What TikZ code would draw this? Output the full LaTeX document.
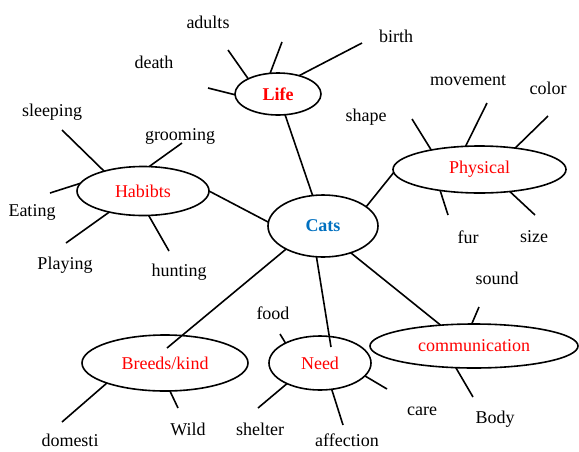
\documentclass[tikz,border=0pt]{standalone}
\usepackage{fontspec}
\setmainfont{Liberation Serif}
\usetikzlibrary{shapes.geometric}
\definecolor{catblue}{RGB}{0,112,192}
\tikzset{
  hub/.style={ellipse, draw=black, line width=1.6pt, inner sep=0pt, outer sep=0pt, text=red, font=\fontsize{18}{20}\selectfont},
  lbl/.style={inner sep=0pt, font=\fontsize{18}{20}\selectfont},
  ln/.style={line width=1.6pt},
}
\begin{document}
\begin{tikzpicture}[x=1pt,y=-1pt]
\useasboundingbox[fill=white] (0,0) rectangle (579,451);
% hubs
\node[hub, minimum width=110pt, minimum height=62pt, text=catblue, font=\fontsize{18}{20}\selectfont\bfseries] (cats) at (323,226) {Cats};
\node[hub, minimum width=86pt, minimum height=42pt, font=\fontsize{18}{20}\selectfont\bfseries] (life) at (278,94) {Life};
\node[hub, minimum width=173pt, minimum height=47pt] (phys) at (479.5,169.5) {Physical};
\node[hub, minimum width=132pt, minimum height=49pt] (hab) at (143,191) {Habibts};
\node[hub, minimum width=166pt, minimum height=56pt] (breeds) at (165,363) {Breeds/kind};
\node[hub, minimum width=102pt, minimum height=54pt] (need) at (320,363) {Need};
\node[hub, minimum width=208pt, minimum height=44pt] (comm) at (474,346) {communication};
% labels
\node[lbl] (tadults) at (208,22) {adults};
\node[lbl] (tdeath) at (154,62) {death};
\node[lbl] (tbirth) at (396,36) {birth};
\node[lbl] (tmove) at (468,81) {movement};
\node[lbl] (tcolor) at (548,88) {color};
\node[lbl] (tshape) at (366,117) {shape};
\node[lbl] (tfur) at (468,237) {fur};
\node[lbl] (tsize) at (534,237) {size};
\node[lbl] (tsleep) at (52,112) {sleeping};
\node[lbl] (tgroom) at (180,136) {grooming};
\node[lbl] (teat) at (32,212) {Eating};
\node[lbl] (tplay) at (65,265) {Playing};
\node[lbl] (thunt) at (179,272) {hunting};
\node[lbl] (tdom) at (70,440) {domesti};
\node[lbl] (twild) at (188,429) {Wild};
\node[lbl] (tshel) at (260,429) {shelter};
\node[lbl] (tfood) at (273,313) {food};
\node[lbl] (taff) at (347,440) {affection};
\node[lbl] (tcare) at (422,411) {care};
\node[lbl] (tbody) at (495,419) {Body};
\node[lbl] (tsound) at (497,278) {sound};
% free ends
\coordinate (eDeath) at (208,88);
\coordinate (eAdults) at (228,50);
\coordinate (eLifeTop) at (282,42);
\coordinate (eBirth) at (362,43);
\coordinate (eShape) at (412,119);
\coordinate (eMove) at (487,103);
\coordinate (eColor) at (548,116);
\coordinate (eFur) at (448,215);
\coordinate (eSize) at (535,215);
\coordinate (eSleep) at (62,130);
\coordinate (eGroom) at (182,143);
\coordinate (eEat) at (50,193);
\coordinate (ePlay) at (66,243);
\coordinate (eHunt) at (169,251);
\coordinate (eDom) at (62,422);
\coordinate (eWild) at (178,408);
\coordinate (eFood) at (280,334);
\coordinate (eShel) at (258,408);
\coordinate (eAff) at (343,425);
\coordinate (eCare) at (387,389);
\coordinate (eSound) at (479,307);
\coordinate (eBody) at (473,397);
\coordinate (inBreeds) at (167,348);
\coordinate (inNeed) at (331,347);
% hub connections
\draw[ln] (life) -- (cats);
\draw[ln] (cats.24) -- (phys.182);
\draw[ln] (hab.east) -- (cats.176);
\draw[ln] (cats.212) -- (inBreeds);
\draw[ln] (cats.258) -- (inNeed);
\draw[ln] (cats.316) -- (comm.148);
% Life branches
\draw[ln] (life.181) -- (eDeath);
\draw[ln] (life.153) -- (eAdults);
\draw[ln] (life.111) -- (eLifeTop);
\draw[ln] (life.41) -- (eBirth);
% Physical branches
\draw[ln] (phys.158) -- (eShape);
\draw[ln] (phys.121) -- (eMove);
\draw[ln] (phys.31) -- (eColor);
\draw[ln] (phys.208) -- (eFur);
\draw[ln] (phys.324) -- (eSize);
% Habits branches
\draw[ln] (hab.153) -- (eSleep);
\draw[ln] (hab.76) -- (eGroom);
\draw[ln] (hab.173) -- (eEat);
\draw[ln] (hab.212) -- (ePlay);
\draw[ln] (hab.283) -- (eHunt);
% Breeds branches
\draw[ln] (breeds.199) -- (eDom);
\draw[ln] (breeds.280) -- (eWild);
% Need branches
\draw[ln] (need.150) -- (eFood);
\draw[ln] (need.212) -- (eShel);
\draw[ln] (need.294) -- (eAff);
\draw[ln] (need.344) -- (eCare);
% communication branches
\draw[ln] (comm.96) -- (eSound);
\draw[ln] (comm.230) -- (eBody);
\end{tikzpicture}
\end{document}
